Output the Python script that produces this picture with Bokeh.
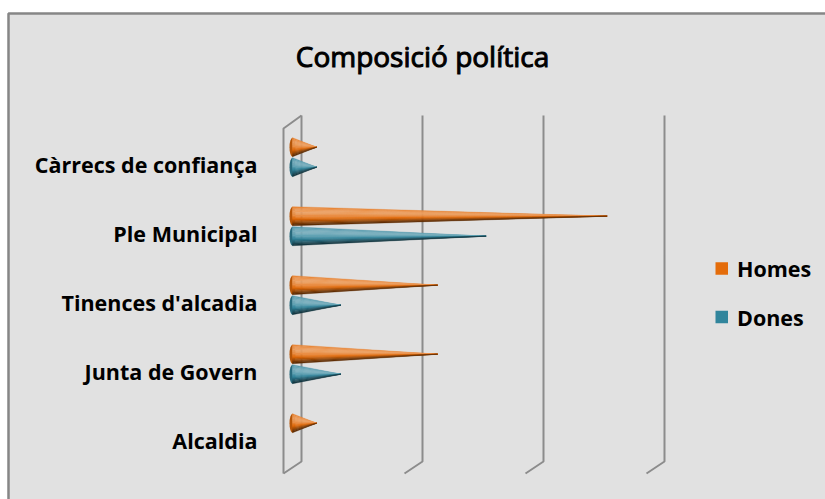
import math

from bokeh.plotting import figure
from bokeh.models import Range1d
from bokeh.core.properties import value
from bokeh.embed import file_html
from bokeh.resources import INLINE

# Composició política: people in each body, by sex
categories = ["Càrrecs de confiança", "Ple Municipal", "Tinences d'alcadia",
              "Junta de Govern", "Alcaldia"]
homes = [1, 13, 6, 6, 1]
dones = [1, 8, 2, 2, 0]
series_names = ["Homes", "Dones"]
grid_values = [0, 5, 10, 15]

# ---- geometry (pixels) ----
W, H = 825, 499
X0, UX = 292.0, 24.2     # x pixel of value 0 on the cone plane, pixels per unit
Y0, UY = 156.7, 69.0     # y pixel of the first category centre, pixels per category
DX = 9.0                 # half depth of the 3-D box, horizontally
BACK_TOP, BACK_BOT = 115.0, 461.0
FRONT_TOP, FRONT_BOT = 128.0, 473.0
CONE_HALF = 9.5          # half height of a cone base
SERIES_OFF = [-10.0, 10.0]

ORANGE = (228, 108, 10)
TEAL = (49, 133, 156)
SERIES_RGB = [ORANGE, TEAL]
BG = "#e1e1e1"
GRID = "#8c8c8c"
FONT = "Open Sans"


def fx(px):
    return (px - X0) / UX


def fy(py):
    return (py - Y0) / UY


def hexc(rgb):
    return "#%02x%02x%02x" % tuple(int(max(0, min(255, round(c)))) for c in rgb)


def shade(rgb, k):
    if k >= 0:
        return hexc([c + (255 - c) * k for c in rgb])
    return hexc([c * (1 + k) for c in rgb])


p = figure(width=W, height=H, x_range=Range1d(fx(0), fx(W)),
           y_range=Range1d(fy(H), fy(0)), min_border=0,
           x_axis_location=None, y_axis_location=None,
           toolbar_location=None, output_backend="svg")
p.grid.visible = False
p.outline_line_color = None
p.background_fill_color = "white"
p.border_fill_color = "white"

# chart area with its frame
p.quad(left=[fx(8)], right=[fx(W + 10)], top=[fy(13)], bottom=[fy(H + 10)],
       fill_color=BG, line_color=None)
p.line(x=[fx(8), fx(8), fx(W + 10)], y=[fy(H + 10), fy(13), fy(13)],
       line_color="#868686", line_width=2.5)

# value gridlines on the back wall, each with its floor foot
dxu = DX / UX
gx, gy = [], []
for v in grid_values:
    gx.append([v + dxu, v + dxu, v - dxu])
    gy.append([fy(BACK_TOP), fy(BACK_BOT), fy(FRONT_BOT)])
# front edge of the side wall
gx.append([grid_values[0] - dxu, grid_values[0] - dxu, grid_values[0] + dxu])
gy.append([fy(FRONT_BOT), fy(FRONT_TOP), fy(BACK_TOP)])
p.multi_line(xs=gx, ys=gy, line_color=GRID, line_width=2)

# cones, each built from thin shaded slices meeting at the tip
N = 14
for s, vals in enumerate([homes, dones]):
    rgb = SERIES_RGB[s]
    xs, ys, cols = [], [], []
    ex, ey = [], []
    for i, v in enumerate(vals):
        if v <= 0:
            continue
        cy = i + SERIES_OFF[s] / UY
        half = CONE_HALF / UY
        ex.append(0)
        ey.append(cy)
        for j in range(N):
            t = (j + 0.5) / N
            k = 0.6 * math.cos(math.pi * (t - 0.28)) - 0.25
            ya = cy - half + 2 * half * j / N
            yb = cy - half + 2 * half * (j + 1) / N
            xs.append([0, 0, v])
            ys.append([ya, yb, cy])
            cols.append(shade(rgb, k))
    p.ellipse(x=ex, y=ey, width=6 / UX, height=2 * CONE_HALF / UY,
              fill_color=shade(rgb, -0.2), line_color=None)
    p.patches(xs=xs, ys=ys, fill_color=cols, line_color=cols, line_width=0.4)

# category labels
lab_y = [i + 7.7 / UY for i in range(len(categories))]
p.text(x=[fx(257)] * len(categories), y=lab_y, text=categories,
       text_align="right", text_baseline="middle",
       text_font=value(FONT), text_font_style="bold", text_font_size="21.5px",
       text_color="#000000")

# title, slightly emboldened with a thin outline of its own colour
p.text(x=[fx(422)], y=[fy(55)], text=["Composició política"],
       text_align="center", text_baseline="middle",
       text_font=value(FONT), text_font_size="28px", text_color="#000000",
       text_outline_color="#000000")

# legend
LEG_X = 715.0
LEG_Y = [268.0, 316.5]
SQ = 12.5
p.quad(left=[fx(LEG_X)] * 2, right=[fx(LEG_X + SQ)] * 2,
       top=[fy(y - SQ / 2) for y in LEG_Y], bottom=[fy(y + SQ / 2) for y in LEG_Y],
       fill_color=[hexc(c) for c in SERIES_RGB], line_color=None)
p.text(x=[fx(LEG_X + SQ + 9)] * 2, y=[fy(y) for y in LEG_Y], text=series_names,
       text_align="left", text_baseline="middle",
       text_font=value(FONT), text_font_style="bold", text_font_size="21.5px",
       text_color="#000000")

open("out.html", "w").write(file_html(p, INLINE))
